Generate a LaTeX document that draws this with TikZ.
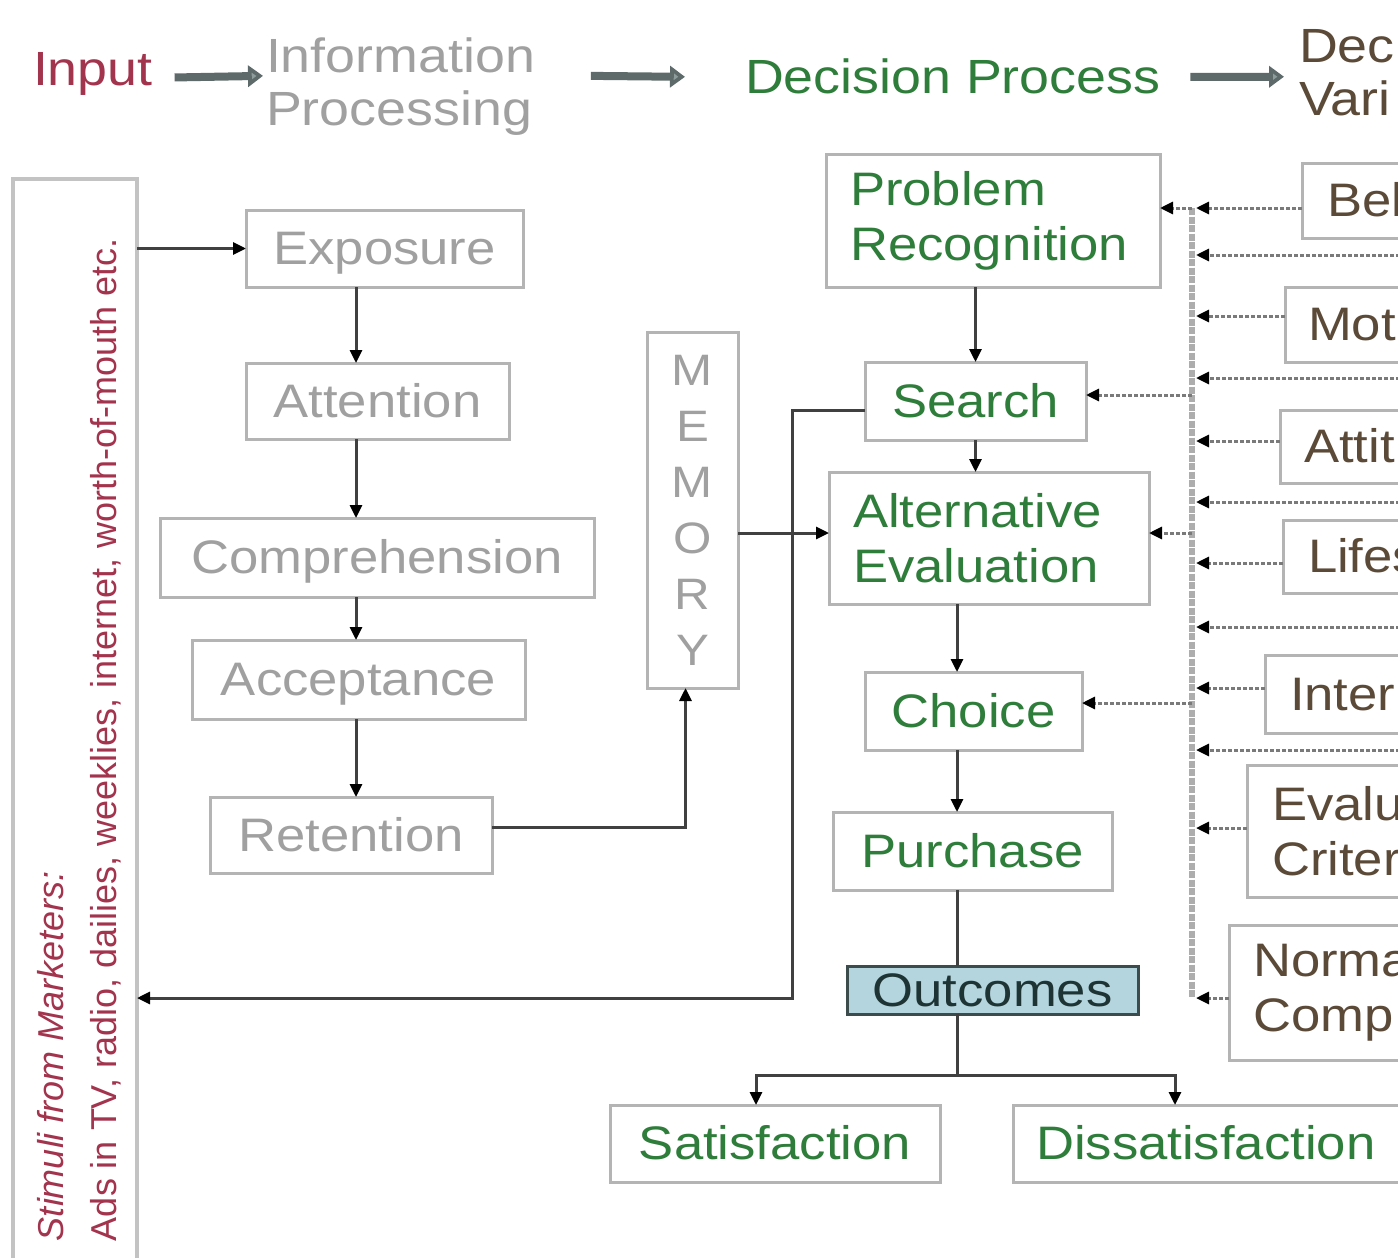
\documentclass[tikz,border=0pt]{standalone}
\usepackage{fontspec}
\setmainfont{Liberation Sans}[FakeStretch=1.12]
\newfontfamily\stimfont{Liberation Sans}
\usetikzlibrary{arrows.meta}

\definecolor{inputred}{HTML}{A3344E}
\definecolor{procgray}{HTML}{A0A0A0}
\definecolor{stepgreen}{HTML}{2E7D3A}
\definecolor{framegray}{HTML}{B4B4B4}
\definecolor{varbrown}{HTML}{5C4A38}
\definecolor{wiregray}{HTML}{404040}
\definecolor{dashgray}{HTML}{7A7A7A}
\definecolor{busgray}{HTML}{ADADAD}
\definecolor{outcomefill}{HTML}{B4D5DE}
\definecolor{outcomeline}{HTML}{3C4B4B}
\definecolor{outcometext}{HTML}{1E3434}
\definecolor{flowarrow}{HTML}{5E6A6A}
\definecolor{flowarrowin}{HTML}{8E9C9C}

\newcommand{\boxfont}{\fontsize{47}{55}\selectfont}
\newcommand{\headfont}{\fontsize{48}{53}\selectfont}
\newcommand{\memfont}{\fontsize{44}{56}\selectfont}
\newcommand{\stimsize}{\fontsize{36}{53}\selectfont}

\begin{document}
\begin{tikzpicture}[x=1pt,y=-1pt,
  every node/.style={inner sep=0pt, outer sep=0pt},
  stagebox/.style={draw=framegray, line width=3pt, font=\boxfont, align=center},
  oneline/.style={text height=34pt, text depth=2pt},
  infobox/.style={stagebox, oneline, text=procgray},
  decbox/.style={stagebox, text=stepgreen},
  varbox/.style={stagebox, text=varbrown, anchor=west, align=left, text width=220pt},
  link/.style={draw=wiregray, line width=3pt, -{Triangle[length=13pt,width=12pt,color=black,fill=black]}},
  plainlink/.style={draw=wiregray, line width=3pt},
  influence/.style={draw=dashgray, line width=3pt, dash pattern=on 4pt off 2pt,
    -{Triangle[length=13pt,width=12pt,color=black,fill=black]}},
  bus/.style={draw=busgray, line width=6pt, dash pattern=on 7pt off 1.5pt},
  flow/.style={draw=flowarrow, line width=8pt, -{Triangle[length=15pt,width=21pt,fill=flowarrowin]}},
]
\useasboundingbox (0,0) rectangle (1398,1258);
\clip (0,0) rectangle (1398,1258);
\fill[white] (0,0) rectangle (1398,1258);

% ---------- header ----------
\node[font=\headfont, text=inputred, anchor=base west] (input) at (33,85) {Input};
\node[font=\headfont, text=procgray, align=left, anchor=north west] (infoproc) at (266,38)
  {Information\\Processing};
\node[font=\headfont, text=stepgreen, anchor=base west] (decproc) at (745,93) {Decision Process};
\node[font=\headfont, text=varbrown, align=left, anchor=north west] (decvar) at (1299,29)
  {Dec\\Vari};
\draw[flow] ([shift={(22,4)}]input.east) -- ([shift={(-3,-11)}]infoproc.west);
\draw[flow] ([shift={(56,-11)}]infoproc.east) -- ([shift={(-60,1)}]decproc.west);
\draw[flow] ([shift={(30,1)}]decproc.east) -- ([shift={(-15,4.5)}]decvar.west);

% ---------- stimuli column ----------
\node[draw=framegray!80, line width=4pt, anchor=north west, minimum width=124pt,
  minimum height=1120pt] (stimuli) at (13,179) {};
\node[font=\stimfont\stimsize, text=inputred, align=left, rotate=90, anchor=south west]
  (stimtext) at (121,1241)
  {{\itshape Stimuli from Marketers:}\\Ads in TV, radio, dailies, weeklies, internet, worth-of-mouth etc.};

% ---------- information processing ----------
\node[infobox, minimum width=277pt, minimum height=77pt] (exposure) at (384.5,248.5) {Exposure};
\node[infobox, minimum width=263pt, minimum height=76pt] (attention) at (377.5,401) {Attention};
\node[infobox, minimum width=434pt, minimum height=79pt] (comprehension) at (377,557.5) {Comprehension};
\node[infobox, minimum width=333pt, minimum height=79pt] (acceptance) at (358.5,679.5) {Acceptance};
\node[infobox, minimum width=282pt, minimum height=76pt] (retention) at (351,835) {Retention};

\node[stagebox, font=\memfont, text=procgray, minimum width=91pt, minimum height=356pt]
  (memory) at (692.5,510) {M\\E\\M\\O\\R\\Y};

% ---------- decision process ----------
\node[decbox, align=left, text width=286pt, minimum width=334pt, minimum height=133pt]
  (pr) at (993,220.5) {Problem\\Recognition};
\node[decbox, oneline, minimum width=221pt, minimum height=78pt] (search) at (975.5,401) {Search};
\node[decbox, align=left, text width=272pt, minimum width=320pt, minimum height=132pt]
  (ae) at (989,538) {Alternative\\Evaluation};
\node[decbox, oneline, minimum width=217pt, minimum height=78pt] (choice) at (973.5,711) {Choice};
\node[decbox, oneline, minimum width=279pt, minimum height=78pt] (purchase) at (972.5,851) {Purchase};
\node[stagebox, oneline, draw=outcomeline, fill=outcomefill, text=outcometext,
  minimum width=291pt, minimum height=48pt] (outcomes) at (992.5,990) {Outcomes};
\node[decbox, oneline, minimum width=330pt, minimum height=77pt] (satisfaction) at (775,1143.5) {Satisfaction};
\node[decbox, oneline, anchor=west, align=left, text width=400pt, inner xsep=23pt,
  minimum height=77pt] (dissat) at (1013,1143.5) {Dissatisfaction};

% ---------- decision variables ----------
\node[varbox, inner xsep=25pt, minimum height=75pt, oneline] (bel) at (1302,200.5) {Bel};
\node[varbox, inner xsep=23pt, minimum height=75pt, oneline] (mot) at (1285,324.5) {Mot};
\node[varbox, inner xsep=24pt, minimum height=73pt, oneline] (attit) at (1280,446.5) {Attit};
\node[varbox, inner xsep=25pt, minimum height=73pt, oneline] (lifes) at (1283,556.5) {Lifes};
\node[varbox, inner xsep=25pt, minimum height=78pt, oneline] (inter) at (1265,694) {Inter};
\node[varbox, inner xsep=25pt, minimum height=132pt] (evalu) at (1247,831) {Evalu\\Criter};
\node[varbox, inner xsep=24pt, minimum height=135pt] (norma) at (1229,992.5) {Norma\\Comp};

% ---------- helper points (yshift is in page units: positive moves up) ----------
\coordinate (leftx) at (356,0);
\coordinate (colx) at (957,0);
\coordinate (fbturn) at (792,998);
\coordinate (trunk) at (957,1075);
\coordinate (satin) at ([xshift=-19]satisfaction.north);
\coordinate (disin) at ([xshift=162]dissat.north west);
\coordinate (memin) at ([xshift=-7]memory.south);
\coordinate (retout) at ([yshift=8]retention.east);
\coordinate (aein) at ([yshift=5]ae.west);
\coordinate (searchout) at ([yshift=-9]search.west);
\coordinate (bustop) at (1192,208);
\coordinate (busbot) at (1192,998);
\coordinate (busx) at (1196,0);
\coordinate (prin) at ([yshift=12.5]pr.east);
\coordinate (searchin) at ([yshift=6]search.east);
\coordinate (aeright) at ([yshift=5]ae.east);
\coordinate (choicein) at ([yshift=8]choice.east);
\coordinate (belout) at ([yshift=-7.5]bel.west);
\coordinate (motout) at ([yshift=8.5]mot.west);
\coordinate (attitout) at ([yshift=5.5]attit.west);
\coordinate (lifesout) at ([yshift=-6.5]lifes.west);
\coordinate (interout) at ([yshift=6]inter.west);
\coordinate (evaluout) at ([yshift=3]evalu.west);
\coordinate (normaout) at ([yshift=-5.5]norma.west);
\coordinate (far1) at (1400,255);
\coordinate (far2) at (1400,378);
\coordinate (far3) at (1400,502);
\coordinate (far4) at (1400,627);
\coordinate (far5) at (1400,750);

% ---------- information processing flow ----------
\draw[link] (stimuli.east |- exposure.west) -- (exposure.west);
\draw[link] (exposure.south -| leftx) -- (attention.north -| leftx);
\draw[link] (attention.south -| leftx) -- (comprehension.north -| leftx);
\draw[link] (comprehension.south -| leftx) -- (acceptance.north -| leftx);
\draw[link] (acceptance.south -| leftx) -- (retention.north -| leftx);
\draw[link] (retout) -| (memin);
\draw[link] (memory.east |- aein) -- (aein);
\draw[link] (searchout) -| (fbturn) -- (stimuli.east |- fbturn);

% ---------- decision process flow ----------
\draw[link] (pr.south -| search) -- (search.north);
\draw[link] (search.south) -- (search.south |- ae.north);
\draw[link] (ae.south -| colx) -- (choice.north -| colx);
\draw[link] (choice.south -| colx) -- (purchase.north -| colx);
\draw[plainlink] (purchase.south -| colx) -- (outcomes.north -| colx);
\draw[plainlink] (outcomes.south -| colx) -- (trunk);
\draw[link] (trunk) -| (satin);
\draw[link] (trunk) -| (disin);

% ---------- influence bus ----------
\draw[bus] (bustop) -- (busbot);
\draw[influence] (prin -| bustop) -- (prin);
\draw[influence] (searchin -| bustop) -- (searchin);
\draw[influence] (aeright -| bustop) -- (aeright);
\draw[influence] (choicein -| bustop) -- (choicein);
\foreach \src in {belout,motout,attitout,lifesout,interout,evaluout,normaout,far1,far2,far3,far4,far5}
  \draw[influence] (\src) -- (\src -| busx);
\end{tikzpicture}
\end{document}
